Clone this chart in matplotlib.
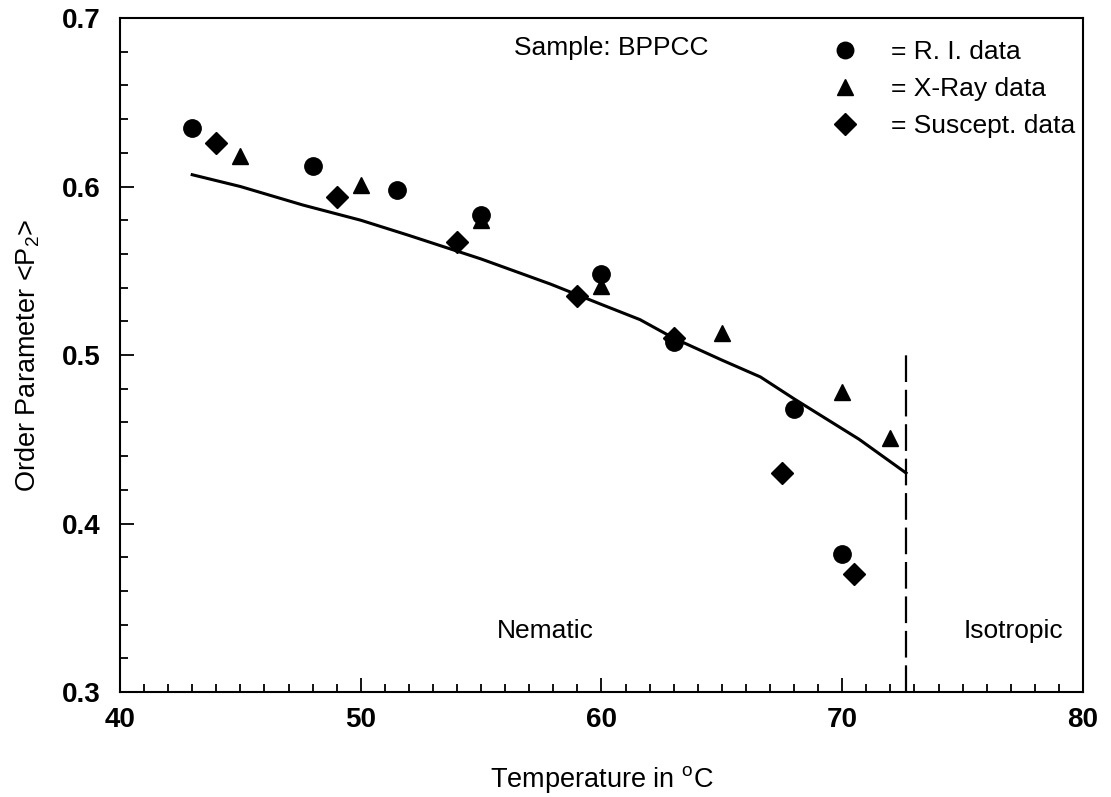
import matplotlib
matplotlib.use("Agg")
import matplotlib.pyplot as plt
from matplotlib.ticker import MultipleLocator

plt.rcParams['font.family'] = ['Liberation Sans', 'DejaVu Sans']
plt.rcParams['mathtext.fontset'] = 'custom'
plt.rcParams['mathtext.rm'] = 'Liberation Sans'
plt.rcParams['mathtext.it'] = 'Liberation Sans'

# R. I. data
ri_T = [43, 48, 51.5, 55, 60, 63, 68, 70]
ri_P = [0.635, 0.612, 0.598, 0.583, 0.548, 0.508, 0.468, 0.382]
# X-ray data
xray_T = [45, 50, 55, 60, 65, 70, 72]
xray_P = [0.618, 0.601, 0.580, 0.541, 0.513, 0.478, 0.451]
# susceptibility data
sus_T = [44, 49, 54, 59, 63, 67.5, 70.5]
sus_P = [0.626, 0.594, 0.567, 0.535, 0.510, 0.430, 0.370]
# theory curve
fit_T = [43, 45, 47.6, 50, 52, 55, 57.9, 60, 61.6, 63, 65, 66.6, 68, 70.7, 72.65]
fit_P = [0.607, 0.600, 0.589, 0.580, 0.571, 0.557, 0.542, 0.530, 0.521, 0.510,
         0.497, 0.487, 0.474, 0.450, 0.430]
# nematic-isotropic transition
T_NI = 72.65
NI_P = [0.3, 0.5]

fig = plt.figure(figsize=(11.11, 7.97), dpi=100)
ax = fig.add_axes([0.108, 0.1317, 0.8668, 0.8457])

ax.plot(fit_T, fit_P, color='black', lw=2.2, zorder=2)
ax.plot([T_NI, T_NI], NI_P, color='black', lw=1.6, dashes=(12, 3.5), zorder=2)

ax.plot(ri_T, ri_P, 'o', color='black', ms=12.5, ls='none', label='= R. I. data', zorder=3)
ax.plot(xray_T, xray_P, '^', color='black', ms=12, ls='none', label='= X-Ray data', zorder=3)
ax.plot(sus_T, sus_P, 'D', color='black', ms=11.5, ls='none', label='= Suscept. data', zorder=3)

ax.set_xlim(40, 80)
ax.set_ylim(0.3, 0.7)
ax.xaxis.set_major_locator(MultipleLocator(10))
ax.xaxis.set_minor_locator(MultipleLocator(1))
ax.yaxis.set_major_locator(MultipleLocator(0.1))
ax.yaxis.set_minor_locator(MultipleLocator(0.02))
ax.yaxis.set_major_formatter(plt.FuncFormatter(lambda v, p: f'{v:.1f}'))
ax.tick_params(which='both', direction='in', top=False, right=False, labelsize=20, width=1.3)
ax.tick_params(which='major', length=10)
ax.tick_params(which='minor', length=6)
ax.tick_params(axis='x', which='major', pad=11)
ax.tick_params(axis='y', which='major', pad=14)
for lab in ax.get_xticklabels() + ax.get_yticklabels():
    lab.set_fontweight('bold')
for s in ax.spines.values():
    s.set_linewidth(1.5)

ax.set_xlabel(r'Temperature in $^{\rm o}$C', fontsize=19.5, labelpad=22)
ax.set_ylabel(r'Order Parameter <P$_2$>', fontsize=19.5, labelpad=14)

ax.text(60.4, 0.682, 'Sample: BPPCC', fontsize=19, ha='center', va='center')
ax.text(57.65, 0.336, 'Nematic', fontsize=19, ha='center', va='center')
ax.text(77.1, 0.336, 'Isotropic', fontsize=19, ha='center', va='center')

ax.legend(loc='upper left', bbox_to_anchor=(0.728, 0.983), frameon=False, fontsize=19,
          handlelength=1.0, handletextpad=1.25, labelspacing=0.5, borderaxespad=0,
          markerscale=0.95)

fig.savefig('out.png', dpi=100)
